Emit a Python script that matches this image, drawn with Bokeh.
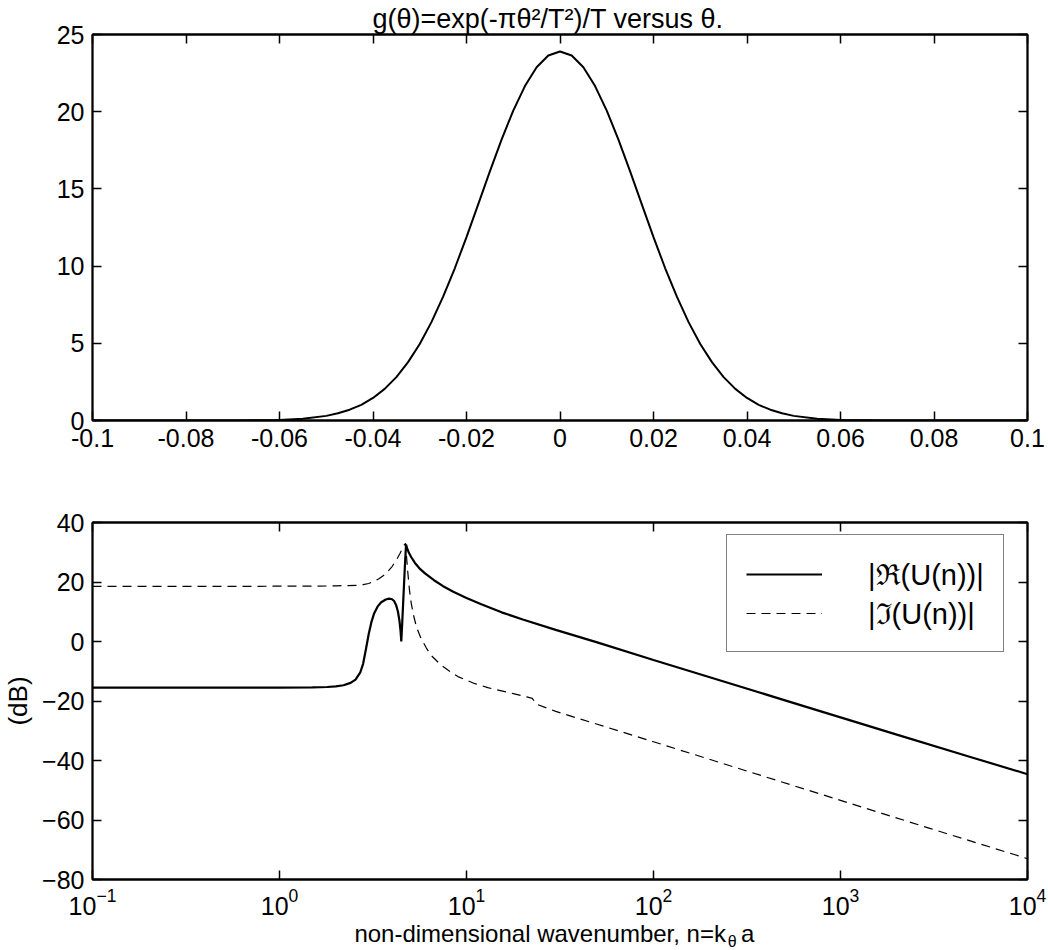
from bokeh.plotting import figure
from bokeh.models import (Range1d, LinearAxis, LogAxis, FixedTicker,
                          CustomJSTickFormatter, Legend, LegendItem)
from bokeh.core.properties import value
from bokeh.layouts import column
from bokeh.embed import file_html
from bokeh.resources import INLINE

FONT = "Liberation Sans"
FS = "25px"

# ---------------- top panel data: g(theta) ----------------
theta = [-0.1, -0.08, -0.07, -0.06, -0.055, -0.05, -0.0475, -0.045, -0.0425,
         -0.04, -0.0375, -0.035, -0.0325, -0.03, -0.0275, -0.025, -0.0225,
         -0.02, -0.0175, -0.015, -0.0125, -0.01, -0.0075, -0.005, -0.0025,
         0.0,
         0.0025, 0.005, 0.0075, 0.01, 0.0125, 0.015, 0.0175, 0.02, 0.0225,
         0.025, 0.0275, 0.03, 0.0325, 0.035, 0.0375, 0.04, 0.0425, 0.045,
         0.0475, 0.05, 0.055, 0.06, 0.07, 0.08, 0.1]
g_theta = [0.0, 0.0, 0.0, 0.04, 0.12, 0.30, 0.47, 0.70, 1.01,
           1.46, 2.05, 2.81, 3.78, 4.96, 6.37, 8.02, 9.86,
           11.88, 14.00, 16.13, 18.19, 20.07, 21.66, 22.88, 23.64,
           23.9,
           23.64, 22.88, 21.66, 20.07, 18.19, 16.13, 14.00, 11.88, 9.86,
           8.02, 6.37, 4.96, 3.78, 2.81, 2.05, 1.46, 1.01, 0.70,
           0.47, 0.30, 0.12, 0.04, 0.0, 0.0, 0.0]
top_x_ticks = [-0.1, -0.08, -0.06, -0.04, -0.02, 0.0, 0.02, 0.04, 0.06, 0.08, 0.1]
top_x_labels = ["-0.1", "-0.08", "-0.06", "-0.04", "-0.02", "0",
                "0.02", "0.04", "0.06", "0.08", "0.1"]
top_y_ticks = [0, 5, 10, 15, 20, 25]
title_text = "g(\u03b8)=exp(-\u03c0\u03b8\u00b2/T\u00b2)/T versus \u03b8."

# ---------------- bottom panel data: spectra in dB ----------------
n_re = [0.1, 0.5, 1.0, 1.5, 1.8, 2.0, 2.2, 2.4, 2.55, 2.7, 2.8, 2.9, 3.0,
        3.1, 3.2, 3.35, 3.5, 3.7, 3.85, 4.0, 4.1, 4.2, 4.3, 4.38, 4.44,
        4.48, 4.53, 4.6, 4.68, 4.75, 4.82, 4.92, 5.06, 5.3, 5.6, 6.0, 6.7,
        7.5, 8.5, 10, 12, 15.4, 20, 30, 50, 100, 200, 500, 1000, 2000,
        5000, 10000]
re_db = [-15.5, -15.5, -15.5, -15.4, -15.3, -15.1, -14.7, -13.9, -12.8,
         -10.5, -7.5, -2.5, 2.5, 6.5, 9.3, 11.8, 13.2, 14.1, 14.4, 14.2,
         13.6, 12.3, 10.0, 7.0, 3.5, 0.0, 6.0, 15.0, 25.0, 32.6, 31.2,
         29.8, 28.4, 26.4, 24.6, 22.9, 20.6, 18.6, 16.7, 14.6, 12.5, 9.8,
         7.4, 3.9, -0.3, -6.2, -12.0, -19.7, -25.5, -31.3, -38.9, -44.6]
n_im = [0.1, 0.5, 1.0, 1.5, 2.0, 2.3, 2.6, 2.8, 3.0, 3.2, 3.4, 3.6, 3.8,
        4.0, 4.2, 4.4, 4.55, 4.65, 4.72, 4.78, 4.85, 4.95, 5.06, 5.2, 5.4,
        5.7, 6.1, 6.5, 7.3, 8.2, 9.0, 11, 13, 15.4, 18, 21, 22.5, 23.5,
        30, 50, 100, 300, 1000, 3000, 10000]
im_db = [18.5, 18.5, 18.6, 18.6, 18.7, 18.8, 18.9, 19.1, 19.5, 20.2, 21.1,
         22.2, 23.6, 25.2, 27.2, 29.5, 31.3, 32.5, 33.0, 28.5, 23.5, 17.5,
         13.0, 9.0, 4.9, 1.2, -2.2, -4.8, -7.9, -10.2, -11.8, -14.1, -15.5,
         -16.6, -17.6, -18.6, -19.1, -21.0, -23.5, -27.8, -33.7, -43.1,
         -53.4, -62.8, -73.0]
bot_x_ticks = [0.1, 1, 10, 100, 1000, 10000]
bot_y_ticks = [-80, -60, -40, -20, 0, 20, 40]
legend_labels = ["|\u211c(U(n))|", "|\u2111(U(n))|"]
y_label = "(dB)"
x_label_main = "non-dimensional wavenumber, n=k"
x_label_sub = "\u03b8"
x_label_end = "a"

# ---------------- layout constants (pixels) ----------------
W = 1048
LEFT, RIGHT = 88, 21
H1, H2, H3 = 470, 449, 31
TOP1, BOT1 = 32, 50
TOP2, BOT2 = 52, 40


def label_formatter(vals, labels):
    return CustomJSTickFormatter(args=dict(vals=vals, labels=labels), code="""
        for (let i = 0; i < vals.length; i++) {
            if (Math.abs(vals[i] - tick) < 1e-9) { return labels[i]; }
        }
        return '';
    """)


def blank_formatter():
    return CustomJSTickFormatter(code="return '';")


def style(ax, ticks, formatter=None, show=True):
    ax.ticker = FixedTicker(ticks=ticks)
    if formatter is not None:
        ax.formatter = formatter
    ax.major_tick_in = 9
    ax.major_tick_out = 0
    ax.minor_tick_line_color = None
    ax.major_tick_line_color = "black"
    ax.major_tick_line_width = 1.5
    ax.axis_line_color = "black"
    ax.axis_line_width = 1.8
    ax.major_label_text_font = FONT
    ax.major_label_text_color = "black"
    if show:
        ax.major_label_text_font_size = FS
        ax.major_label_standoff = 8
    else:
        ax.major_label_text_font_size = "1px"
        ax.major_label_standoff = 0


# ---------------- top figure ----------------
p1 = figure(width=W, height=H1, x_range=Range1d(-0.1, 0.1),
            y_range=Range1d(0, 25), output_backend="svg",
            toolbar_location=None, min_border_left=LEFT,
            min_border_right=RIGHT, min_border_top=TOP1,
            min_border_bottom=BOT1,
            background_fill_color="white", border_fill_color="white",
            outline_line_color="black", outline_line_width=1.8)
p1.title.text = title_text
p1.title.align = "left"
p1.title.offset = 280
p1.title.text_font = FONT
p1.title.text_font_size = "27px"
p1.title.text_font_style = "normal"
p1.title.text_color = "black"
p1.title.standoff = 2
p1.xgrid.grid_line_color = None
p1.ygrid.grid_line_color = None
style(p1.xaxis[0], top_x_ticks, label_formatter(top_x_ticks, top_x_labels))
style(p1.yaxis[0], top_y_ticks)
ax_top = LinearAxis()
style(ax_top, top_x_ticks, blank_formatter(), show=False)
p1.add_layout(ax_top, "above")
ax_right = LinearAxis()
style(ax_right, top_y_ticks, blank_formatter(), show=False)
p1.add_layout(ax_right, "right")
p1.line(theta, g_theta, line_color="black", line_width=2)

# ---------------- bottom figure ----------------
p2 = figure(width=W, height=H2, x_axis_type="log",
            x_range=Range1d(0.1, 10000), y_range=Range1d(-80, 40),
            output_backend="svg", toolbar_location=None,
            min_border_left=LEFT, min_border_right=RIGHT,
            min_border_top=TOP2, min_border_bottom=BOT2,
            background_fill_color="white", border_fill_color="white",
            outline_line_color="black", outline_line_width=1.8)
p2.xgrid.grid_line_color = None
p2.ygrid.grid_line_color = None
style(p2.xaxis[0], bot_x_ticks)
style(p2.yaxis[0], bot_y_ticks)
p2.yaxis[0].axis_label = y_label
p2.yaxis[0].axis_label_text_font = FONT
p2.yaxis[0].axis_label_text_font_size = "26px"
p2.yaxis[0].axis_label_text_font_style = "normal"
p2.yaxis[0].axis_label_text_color = "black"
p2.yaxis[0].axis_label_standoff = 6
bx_top = LogAxis()
style(bx_top, bot_x_ticks, blank_formatter(), show=False)
p2.add_layout(bx_top, "above")
by_right = LinearAxis()
style(by_right, bot_y_ticks, blank_formatter(), show=False)
p2.add_layout(by_right, "right")

r_re = p2.line(n_re, re_db, line_color="black", line_width=2.2)
r_im = p2.line(n_im, im_db, line_color="black", line_width=1.2,
               line_dash="9 6")

legend = Legend(items=[LegendItem(label=legend_labels[0], renderers=[r_re]),
                       LegendItem(label=legend_labels[1], renderers=[r_im])],
                location=(634, 227), glyph_width=76, glyph_height=38,
                label_height=38, label_standoff=46, padding=19, spacing=0,
                label_text_font=FONT, label_text_font_size="29px",
                label_text_color="black", border_line_color="black",
                border_line_width=1.5, background_fill_color="white",
                background_fill_alpha=1.0)
p2.add_layout(legend)

# ---------------- strip holding the x-axis title (with subscript) ----------------
p3 = figure(width=W, height=H3, x_range=Range1d(0, W), y_range=Range1d(0, H3),
            x_axis_location=None, y_axis_location=None, title=None,
            output_backend="svg", toolbar_location=None,
            min_border=0, outline_line_color=None,
            background_fill_color="white", border_fill_color="white")
p3.xgrid.grid_line_color = None
p3.ygrid.grid_line_color = None
p3.text(x=[710], y=[17], text=[x_label_main], text_align="right",
        text_baseline="middle", text_font=value(FONT),
        text_font_size="24px", text_color="black")
p3.text(x=[712], y=[9], text=[x_label_sub], text_align="left",
        text_baseline="middle", text_font=value(FONT),
        text_font_size="16px", text_color="black")
p3.text(x=[727], y=[17], text=[x_label_end], text_align="left",
        text_baseline="middle", text_font=value(FONT),
        text_font_size="24px", text_color="black")

layout = column(p1, p2, p3, spacing=0)
open("out.html", "w").write(file_html(layout, INLINE))
